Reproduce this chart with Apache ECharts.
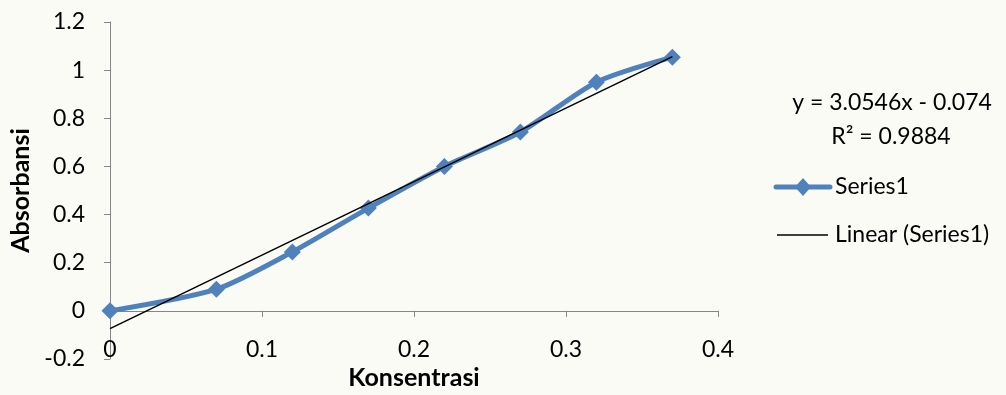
<!DOCTYPE html>
<html>
<head>
<meta charset="utf-8">
<script src="https://cdn.jsdelivr.net/npm/echarts@6/dist/echarts.min.js"></script>
<style>
  html, body { margin: 0; padding: 0; background: #fbfbf6; }
  #chart { width: 1006px; height: 395px; }
</style>
</head>
<body>
<div id="chart"></div>
<script>
// Calibration data: concentration vs absorbance
const konsentrasi = [0, 0.07, 0.12, 0.17, 0.22, 0.27, 0.32, 0.37];
const absorbansi = [0, 0.09, 0.245, 0.427, 0.6, 0.743, 0.95, 1.054];

// Linear trendline from the fitted equation
const slope = 3.0546;
const intercept = -0.074;
const rSquared = 0.9884;

const xTicks = [0, 0.1, 0.2, 0.3, 0.4];
const yTicks = [-0.2, 0, 0.2, 0.4, 0.6, 0.8, 1, 1.2];

const seriesName = 'Series1';
const trendName = 'Linear (Series1)';

const FONT = 'Lato';
const BLUE = '#4f81bd';
const AXIS = '#868686';
const LABEL_SIZE = 23;

const xMin = konsentrasi[0];
const xMax = konsentrasi[konsentrasi.length - 1];
const trend = [[xMin, slope * xMin + intercept], [xMax, slope * xMax + intercept]];

const chart = echarts.init(document.getElementById('chart'), null, { renderer: 'canvas' });

// Legend entries drawn by hand so the swatches carry the real line weights
const legendX = 776, legendW = 54, textX = 835;
const legendRows = [187, 235];

chart.setOption({
  backgroundColor: '#fbfbf6',
  animation: false,
  textStyle: { fontFamily: FONT, color: '#000' },
  grid: { left: 110, right: 288, top: 22, bottom: 36, containLabel: false, outerBoundsMode: 'none' },
  xAxis: {
    type: 'value',
    min: xTicks[0],
    max: xTicks[xTicks.length - 1],
    interval: 0.1,
    name: 'Konsentrasi',
    nameLocation: 'middle',
    nameGap: 4,
    nameTextStyle: { fontFamily: FONT, fontSize: 25, fontWeight: 'bold', color: '#000' },
    axisLine: { onZero: true, lineStyle: { color: AXIS, width: 1 } },
    axisTick: { show: true, length: 6, lineStyle: { color: AXIS } },
    axisLabel: { fontFamily: FONT, fontSize: LABEL_SIZE, color: '#000', margin: -21 },
    splitLine: { show: false }
  },
  yAxis: {
    type: 'value',
    min: yTicks[0],
    max: yTicks[yTicks.length - 1],
    interval: 0.2,
    name: 'Absorbansi',
    nameLocation: 'middle',
    nameGap: 76,
    nameTextStyle: { fontFamily: FONT, fontSize: 25, fontWeight: 'bold', color: '#000' },
    axisLine: { show: true, onZero: false, lineStyle: { color: AXIS, width: 1 } },
    axisTick: { show: true, length: 6, lineStyle: { color: AXIS } },
    axisLabel: { fontFamily: FONT, fontSize: LABEL_SIZE, color: '#000', margin: 25 },
    splitLine: { show: false }
  },
  graphic: [
    {
      type: 'text', x: 892, y: 103,
      style: {
        text: 'y = ' + slope + 'x - ' + Math.abs(intercept),
        font: LABEL_SIZE + 'px ' + FONT, fill: '#000',
        align: 'center', verticalAlign: 'middle'
      }
    },
    {
      type: 'text', x: 891, y: 137,
      style: {
        text: 'R\u00b2 = ' + rSquared,
        font: LABEL_SIZE + 'px ' + FONT, fill: '#000',
        align: 'center', verticalAlign: 'middle'
      }
    },
    {
      type: 'line',
      shape: { x1: legendX, y1: legendRows[0], x2: legendX + legendW, y2: legendRows[0] },
      style: { stroke: BLUE, lineWidth: 5, lineCap: 'round' }
    },
    {
      type: 'polygon',
      shape: { points: [[803, legendRows[0] - 9], [811, legendRows[0]], [803, legendRows[0] + 9], [795, legendRows[0]]] },
      style: { fill: BLUE }
    },
    {
      type: 'text', x: textX, y: legendRows[0],
      style: { text: seriesName, font: LABEL_SIZE + 'px ' + FONT, fill: '#000', verticalAlign: 'middle' }
    },
    {
      type: 'line',
      shape: { x1: legendX + 1, y1: legendRows[1], x2: legendX + legendW - 2, y2: legendRows[1] },
      style: { stroke: '#000', lineWidth: 1.5 }
    },
    {
      type: 'text', x: textX, y: legendRows[1],
      style: { text: trendName, font: LABEL_SIZE + 'px ' + FONT, fill: '#000', verticalAlign: 'middle' }
    }
  ],
  series: [
    {
      name: trendName,
      type: 'line',
      data: trend,
      symbol: 'none',
      lineStyle: { color: '#000', width: 1.5 },
      itemStyle: { color: '#000' },
      z: 3
    },
    {
      name: seriesName,
      type: 'line',
      data: konsentrasi.map((x, i) => [x, absorbansi[i]]),
      smooth: 0.25,
      symbol: 'diamond',
      symbolSize: 17,
      lineStyle: { color: BLUE, width: 5 },
      itemStyle: { color: BLUE },
      z: 2
    }
  ]
});
</script>
</body>
</html>
